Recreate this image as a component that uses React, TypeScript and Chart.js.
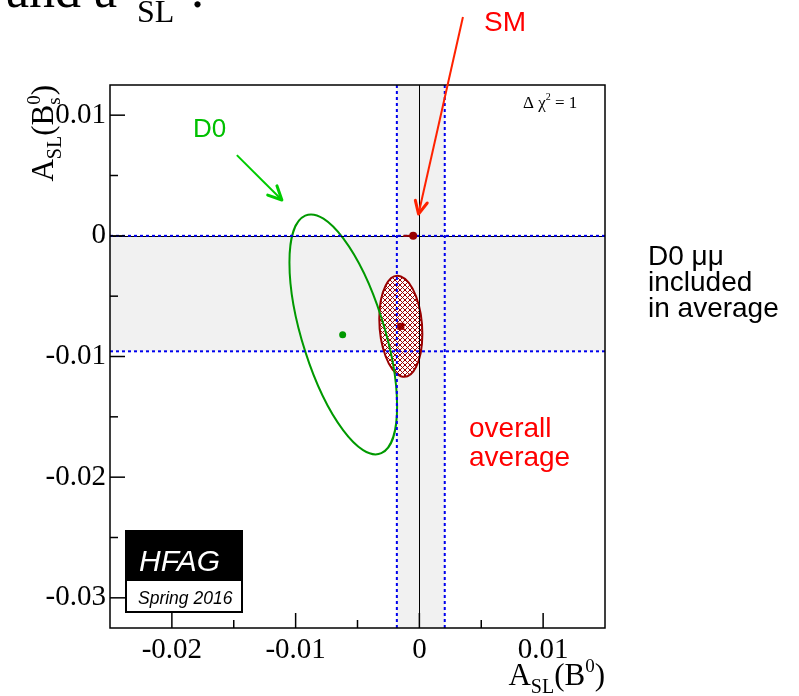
import React, { useEffect, useRef } from 'react';
import { Chart, registerables } from 'chart.js';
Chart.register(...registerables);

// ---- axis ranges & ticks ----
const xRange = [-0.025, 0.015];
const yRange = [-0.0325, 0.0125];
const xMajorTicks = [-0.02, -0.01, 0, 0.01];
const xTickLabels = ['-0.02', '-0.01', '0', '0.01'];
const xMinorTicks = [-0.015, -0.005, 0.005];
const yMajorTicks = [-0.03, -0.02, -0.01, 0, 0.01];
const yTickLabels = ['-0.03', '-0.02', '-0.01', '0', '0.01'];
const yMinorTicks = [-0.025, -0.015, -0.005, 0.005];

// ---- 1-sigma bands of the averages ----
const b0Band = [-0.00182, 0.00205]; // A_SL(B0) band (x)
const bsBand = [-0.00957, 0.0];     // A_SL(Bs) band (y)

// ---- Δχ²=1 contours: [centreX, centreY, sigmaX, sigmaY, correlation] ----
const d0Ellipse = [-0.00615, -0.00817, 0.00435, 0.00994, -0.6];
const avgEllipse = [-0.0015, -0.0075, 0.00174, 0.00418, -0.15];

// ---- central values ----
const d0Point = [-0.0062, -0.0082];
const avgPoint = [-0.0015, -0.0075];
const smPoint = [-0.0005, 0.0];
const smXErr = [0.0008];

// ---- annotation arrows in data coordinates: [x1, y1, x2, y2] ----
const d0Arrow = [-0.01475, 0.00669, -0.01111, 0.00297];
const smArrow = [0.00352, 0.01813, -0.00007, 0.00181];

const DARKRED = '#990000';
const GREEN = '#009900';

function makeHatch(): CanvasPattern | string {
  const c = document.createElement('canvas');
  c.width = 5; c.height = 5;
  const g = c.getContext('2d');
  if (!g) return DARKRED;
  g.fillStyle = '#ffffff';
  g.fillRect(0, 0, 5, 5);
  g.strokeStyle = '#9a0000';
  g.lineWidth = 1;
  g.beginPath();
  g.moveTo(-1, -1); g.lineTo(6, 6);
  g.moveTo(6, -1); g.lineTo(-1, 6);
  g.stroke();
  const p = g.createPattern(c, 'repeat');
  return p || DARKRED;
}

function drawEllipse(ctx: CanvasRenderingContext2D, X: (v: number) => number, Y: (v: number) => number,
  e: number[], fill: any, stroke: string) {
  const [cx, cy, sx, sy, rho] = e;
  const cxp = X(cx), cyp = Y(cy);
  const ax = X(cx + sx) - cxp;
  const ay = Y(cy + sy) - cyp;
  const r = Math.sqrt(1 - rho * rho);
  ctx.save();
  ctx.transform(ax, ay * rho, 0, ay * r, cxp, cyp);
  ctx.beginPath();
  ctx.arc(0, 0, 1, 0, Math.PI * 2);
  ctx.restore();
  if (fill) { ctx.fillStyle = fill; ctx.fill(); }
  ctx.lineWidth = 2;
  ctx.strokeStyle = stroke;
  ctx.stroke();
}

function seg(ctx: CanvasRenderingContext2D, x1: number, y1: number, x2: number, y2: number) {
  ctx.beginPath(); ctx.moveTo(x1, y1); ctx.lineTo(x2, y2); ctx.stroke();
}

function arrow(ctx: CanvasRenderingContext2D, x1: number, y1: number, x2: number, y2: number, color: string, head: number) {
  ctx.strokeStyle = color;
  ctx.lineWidth = 2;
  seg(ctx, x1, y1, x2, y2);
  const ang = Math.atan2(y2 - y1, x2 - x1);
  ctx.lineWidth = 3;
  ctx.lineCap = 'round';
  ctx.lineJoin = 'round';
  ctx.beginPath();
  ctx.moveTo(x2 - head * Math.cos(ang - 0.45), y2 - head * Math.sin(ang - 0.45));
  ctx.lineTo(x2, y2);
  ctx.lineTo(x2 - head * Math.cos(ang + 0.45), y2 - head * Math.sin(ang + 0.45));
  ctx.stroke();
  ctx.lineCap = 'butt';
}

type Piece = { t: string; size: number; dy: number; stackWithPrev?: boolean };

function piecesWidth(ctx: CanvasRenderingContext2D, pieces: Piece[], family: string) {
  let w = 0; let prevW = 0;
  for (const p of pieces) {
    ctx.font = `${p.size}px ${family}`;
    const pw = ctx.measureText(p.t).width;
    if (p.stackWithPrev) { w += Math.max(0, pw - prevW); prevW = Math.max(pw, prevW); }
    else { w += pw; prevW = pw; }
  }
  return w;
}

function drawPieces(ctx: CanvasRenderingContext2D, pieces: Piece[], family: string, x0: number, y0: number) {
  let x = x0; let lastStart = x0; let prevW = 0;
  for (const p of pieces) {
    ctx.font = `${p.size}px ${family}`;
    const pw = ctx.measureText(p.t).width;
    if (p.stackWithPrev) {
      ctx.fillText(p.t, lastStart, y0 + p.dy);
      x = lastStart + Math.max(pw, prevW);
      prevW = Math.max(pw, prevW);
    } else {
      ctx.fillText(p.t, x, y0 + p.dy);
      lastStart = x;
      x += pw;
      prevW = pw;
    }
  }
}

const SERIF = '"Liberation Serif", "DejaVu Serif", serif';
const SANS = '"Liberation Sans", Arial, sans-serif';

const hfagPlugin = {
  id: 'hfagDecor',
  beforeDatasetsDraw(chart: any) {
    const { ctx, chartArea: a, scales } = chart;
    const X = (v: number) => scales.x.getPixelForValue(v);
    const Y = (v: number) => scales.y.getPixelForValue(v);
    ctx.save();
    ctx.beginPath();
    ctx.rect(a.left, a.top, a.right - a.left, a.bottom - a.top);
    ctx.clip();
    // bands
    ctx.fillStyle = '#f1f1f1';
    ctx.fillRect(a.left, Y(bsBand[1]), a.right - a.left, Y(bsBand[0]) - Y(bsBand[1]));
    ctx.fillRect(X(b0Band[0]), a.top, X(b0Band[1]) - X(b0Band[0]), a.bottom - a.top);
    // contours
    if (!chart.$hatch) chart.$hatch = makeHatch();
    drawEllipse(ctx, X, Y, avgEllipse, chart.$hatch, DARKRED);
    drawEllipse(ctx, X, Y, d0Ellipse, null, GREEN);
    // zero lines
    ctx.strokeStyle = '#000';
    ctx.lineWidth = 1;
    seg(ctx, Math.round(X(0)) + 0.5, a.top, Math.round(X(0)) + 0.5, a.bottom);
    seg(ctx, a.left, Math.round(Y(0)) + 0.5, a.right, Math.round(Y(0)) + 0.5);
    // dotted band edges
    ctx.strokeStyle = '#0000ee';
    ctx.lineWidth = 2;
    ctx.setLineDash([3, 3]);
    for (const v of b0Band) seg(ctx, X(v), a.top, X(v), a.bottom);
    for (const v of bsBand) seg(ctx, a.left, Y(v), a.right, Y(v));
    ctx.setLineDash([]);
    // SM horizontal error
    ctx.strokeStyle = DARKRED;
    ctx.lineWidth = 2;
    seg(ctx, X(smPoint[0] - smXErr[0]), Y(smPoint[1]), X(smPoint[0]), Y(smPoint[1]));
    ctx.restore();
  },
  afterDatasetsDraw(chart: any) {
    const { ctx, chartArea: a, scales } = chart;
    const X = (v: number) => scales.x.getPixelForValue(v);
    const Y = (v: number) => scales.y.getPixelForValue(v);
    ctx.save();
    // frame
    ctx.strokeStyle = '#000';
    ctx.lineWidth = 1.5;
    ctx.strokeRect(a.left, a.top, a.right - a.left, a.bottom - a.top);
    // inward ticks
    ctx.lineWidth = 1.5;
    for (const v of xMajorTicks) seg(ctx, X(v), a.bottom, X(v), a.bottom - 15);
    for (const v of xMinorTicks) seg(ctx, X(v), a.bottom, X(v), a.bottom - 8);
    for (const v of yMajorTicks) seg(ctx, a.left, Y(v), a.left + 15, Y(v));
    for (const v of yMinorTicks) seg(ctx, a.left, Y(v), a.left + 8, Y(v));

    // arrows
    arrow(ctx, X(d0Arrow[0]), Y(d0Arrow[1]), X(d0Arrow[2]), Y(d0Arrow[3]), '#00cc00', 15);
    arrow(ctx, X(smArrow[0]), Y(smArrow[1]), X(smArrow[2]), Y(smArrow[3]), '#ff2200', 14);

    // texts
    ctx.textBaseline = 'alphabetic';
    ctx.textAlign = 'left';
    ctx.fillStyle = '#00c000';
    ctx.font = `26px ${SANS}`;
    ctx.fillText('D0', 193, 137);
    ctx.fillStyle = '#ff0000';
    ctx.font = `28px ${SANS}`;
    ctx.fillText('SM', 484, 31);
    ctx.fillText('overall', 469, 437);
    ctx.fillText('average', 469, 466);
    ctx.fillStyle = '#000';
    ctx.fillText('D0 \u03bc\u03bc', 648, 265);
    ctx.fillText('included', 648, 291);
    ctx.fillText('in average', 648, 317);

    // Δχ² = 1
    drawPieces(ctx, [
      { t: '\u0394 \u03c7', size: 17, dy: 0 },
      { t: '2', size: 10, dy: -8 },
      { t: ' = 1', size: 17, dy: 0 },
    ], SERIF, 523, 108);

    // HFAG logo
    ctx.fillStyle = '#000';
    ctx.fillRect(125, 530, 118, 83);
    ctx.fillStyle = '#fff';
    ctx.fillRect(127, 581, 114, 30);
    ctx.font = `italic 30px ${SANS}`;
    ctx.fillText('HFAG', 139, 571);
    ctx.fillStyle = '#000';
    ctx.font = `italic 17.5px ${SANS}`;
    ctx.fillText('Spring 2016', 138, 604);

    // page title fragment
    ctx.fillStyle = '#000';
    ctx.font = `52px ${SERIF}`;
    ctx.fillText('and a', 6, 7);
    ctx.font = `32px ${SERIF}`;
    ctx.fillText('SL', 137, 22);
    ctx.font = `52px ${SERIF}`;
    ctx.fillText('.', 191, 7);

    // x axis title: A_SL(B^0)
    const xt: Piece[] = [
      { t: 'A', size: 31, dy: 0 },
      { t: 'SL', size: 20, dy: 8 },
      { t: '(B', size: 31, dy: 0 },
      { t: '0', size: 19, dy: -13 },
      { t: ')', size: 31, dy: 0 },
    ];
    const xw = piecesWidth(ctx, xt, SERIF);
    drawPieces(ctx, xt, SERIF, a.right - xw, 685);

    // y axis title: A_SL(B_s^0) rotated
    const yt: Piece[] = [
      { t: 'A', size: 31, dy: 0 },
      { t: 'SL', size: 20, dy: 8 },
      { t: '(B', size: 31, dy: 0 },
      { t: 's', size: 19, dy: 7 },
      { t: '0', size: 19, dy: -13, stackWithPrev: true },
      { t: ')', size: 31, dy: 0 },
    ];
    const yw = piecesWidth(ctx, yt, SERIF);
    ctx.translate(53, a.top + yw);
    ctx.rotate(-Math.PI / 2);
    drawPieces(ctx, yt, SERIF, 0, 0);
    ctx.restore();
  },
};

export default function App() {
  const ref = useRef<HTMLCanvasElement | null>(null);
  useEffect(() => {
    if (!ref.current) return;
    const chart = new Chart(ref.current, {
      type: 'scatter',
      data: {
        datasets: [
          {
            label: 'D0',
            data: [{ x: d0Point[0], y: d0Point[1] }],
            pointRadius: 3.5,
            pointBackgroundColor: GREEN,
            pointBorderWidth: 0,
          },
          {
            label: 'Average',
            data: [{ x: avgPoint[0], y: avgPoint[1] }],
            pointStyle: 'rect',
            pointRadius: 5,
            pointBackgroundColor: DARKRED,
            pointBorderWidth: 0,
          },
          {
            label: 'SM',
            data: [{ x: smPoint[0], y: smPoint[1] }],
            pointRadius: 4,
            pointBackgroundColor: DARKRED,
            pointBorderWidth: 0,
          },
        ],
      },
      options: {
        responsive: false,
        animation: false,
        events: [],
        layout: { padding: { left: 8, top: 85, right: 194, bottom: 0 } },
        plugins: { legend: { display: false }, tooltip: { enabled: false } },
        scales: {
          x: {
            type: 'linear',
            min: xRange[0],
            max: xRange[1],
            grid: { display: false, drawTicks: false },
            border: { display: false },
            afterBuildTicks: (s: any) => { s.ticks = xMajorTicks.map((v) => ({ value: v })); },
            afterFit: (s: any) => { s.height = 68; },
            ticks: {
              autoSkip: false,
              maxRotation: 0,
              padding: 5,
              color: '#000',
              font: { family: 'Liberation Serif', size: 29 },
              callback: (_v: any, i: number) => xTickLabels[i],
            },
          },
          y: {
            type: 'linear',
            min: yRange[0],
            max: yRange[1],
            grid: { display: false, drawTicks: false },
            border: { display: false },
            afterBuildTicks: (s: any) => { s.ticks = yMajorTicks.map((v) => ({ value: v })); },
            afterFit: (s: any) => { s.width = 102; },
            ticks: {
              autoSkip: false,
              padding: 4,
              color: '#000',
              font: { family: 'Liberation Serif', size: 29 },
              callback: (_v: any, i: number) => yTickLabels[i],
            },
          },
        },
      } as any,
      plugins: [hfagPlugin],
    });
    return () => chart.destroy();
  }, []);
  return (
    <div style={{ position: 'absolute', left: 0, top: 0, width: 799, height: 696, background: '#fff' }}>
      <canvas ref={ref} width={799} height={696} style={{ display: 'block', width: 799, height: 696 }} />
    </div>
  );
}
